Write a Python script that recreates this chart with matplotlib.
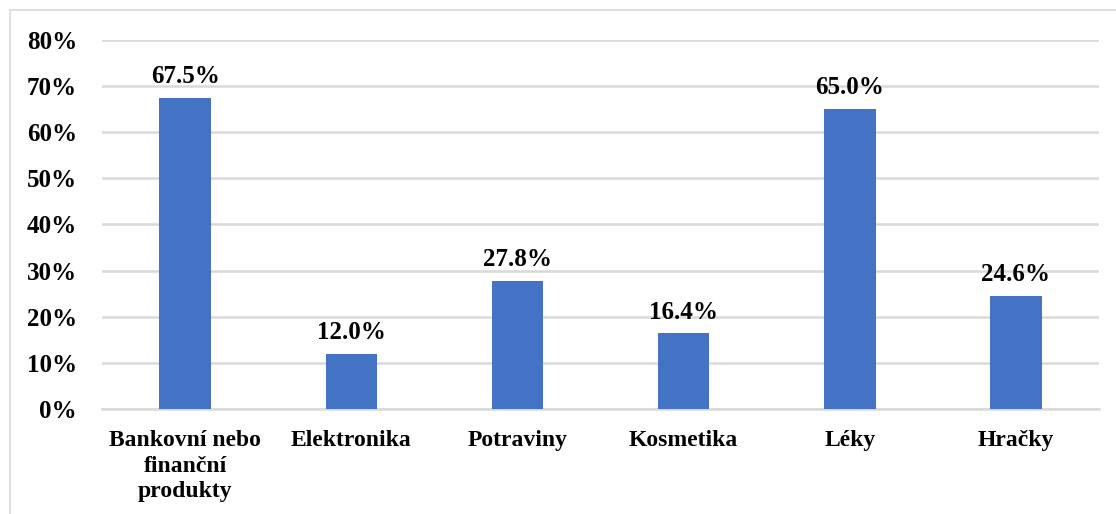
import matplotlib.pyplot as plt
from matplotlib.lines import Line2D

categories = ['Bankovní nebo\nfinanční\nprodukty', 'Elektronika', 'Potraviny',
              'Kosmetika', 'Léky', 'Hračky']
values = [67.5, 12.0, 27.8, 16.4, 65.0, 24.6]
yticks = [0, 10, 20, 30, 40, 50, 60, 70, 80]

plt.rcParams['font.family'] = 'Liberation Serif'
plt.rcParams['font.weight'] = 'bold'

fig = plt.figure(figsize=(11.16, 5.14), dpi=100)
ax = fig.add_axes([0.0914, 0.2043, 0.8934, 0.7179])

x = range(len(categories))
bars = ax.bar(x, values, width=0.31, color='#4472C4', zorder=3)
for b, v in zip(bars, values):
    ax.annotate(f'{v:.1f}%', (b.get_x() + b.get_width() / 2, v),
                xytext=(0, 7), textcoords='offset points',
                ha='center', va='bottom', fontsize=18, fontweight='bold')

ax.set_xlim(-0.5, len(categories) - 0.5)
ax.set_ylim(0, 80)
ax.set_yticks(yticks)
ax.set_yticklabels([f'{t}%' for t in yticks], fontsize=18, fontweight='bold')
ax.set_xticks(list(x))
ax.set_xticklabels(categories, fontsize=17, fontweight='bold', linespacing=1.3)
ax.tick_params(length=0)
ax.tick_params(axis='y', pad=18)
ax.tick_params(axis='x', pad=15)
ax.yaxis.grid(True, color='#d9d9d9', linewidth=1.8, zorder=0)
ax.axhline(0, color='#d9d9d9', linewidth=1.8, zorder=1, clip_on=False)
for s in ax.spines.values():
    s.set_visible(False)

# outer chart border (top and left edges visible)
fig.add_artist(Line2D([10 / 1116, 10 / 1116], [0, 1 - 10 / 514],
                      color='#d9d9d9', linewidth=1.2, transform=fig.transFigure))
fig.add_artist(Line2D([10 / 1116, 1], [1 - 10 / 514, 1 - 10 / 514],
                      color='#d9d9d9', linewidth=1.2, transform=fig.transFigure))

fig.savefig('out.png', dpi=100)
